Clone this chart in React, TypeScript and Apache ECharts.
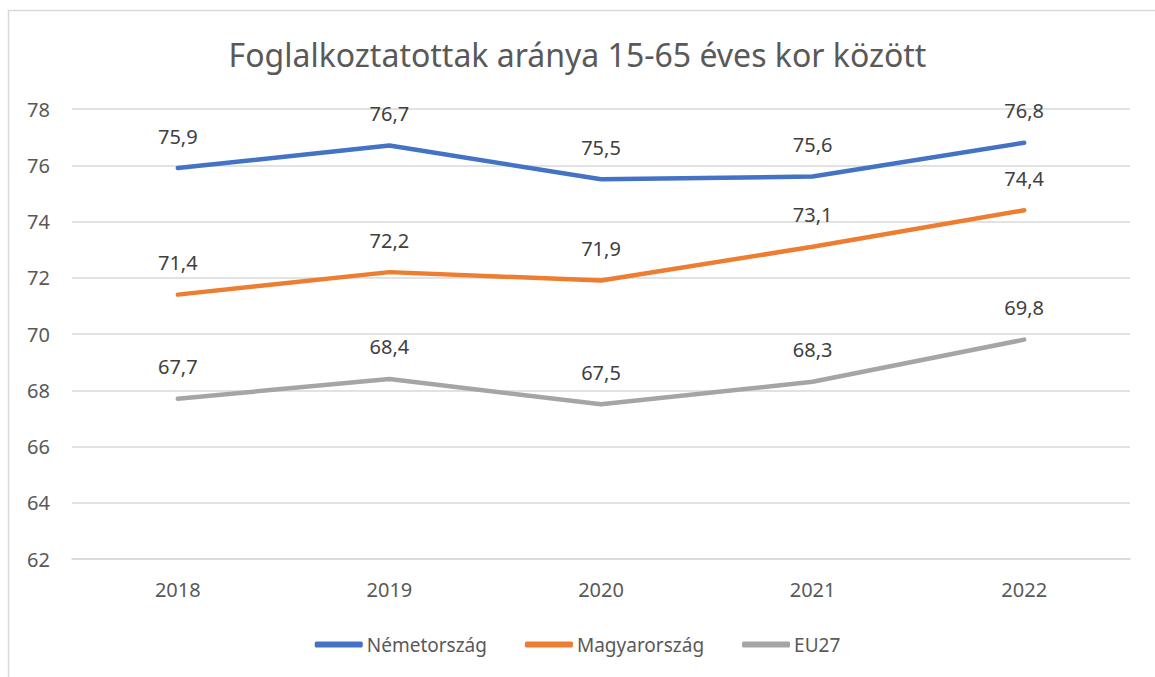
import React, { useEffect, useRef } from "react";
import * as echarts from "echarts";

const years = ["2018", "2019", "2020", "2021", "2022"];
const nemetorszag = [75.9, 76.7, 75.5, 75.6, 76.8];
const magyarorszag = [71.4, 72.2, 71.9, 73.1, 74.4];
const eu27 = [67.7, 68.4, 67.5, 68.3, 69.8];
const seriesNames = ["Németország", "Magyarország", "EU27"];
const colors = ["#4472C4", "#ED7D31", "#A5A5A5"];

const FONT = "'Noto Sans', 'Open Sans', sans-serif";

export default function App() {
  const ref = useRef<HTMLDivElement>(null);
  useEffect(() => {
    document.body.style.margin = "0";
    const chart = echarts.init(ref.current!, null, { renderer: "svg" });
    const mk = (name: string, data: number[], color: string) => ({
      name,
      type: "line",
      data,
      symbol: "circle",
      symbolSize: 0.1,
      showSymbol: true,
      smooth: false,
      lineStyle: { width: 4.5, color, cap: "round" },
      itemStyle: { color },
      label: {
        show: true,
        position: "top",
        distance: 22,
        fontSize: 20,
        fontFamily: FONT,
        color: "#404040",
        formatter: (p: any) => String(p.value).replace(".", ","),
      },
    });
    chart.setOption({
      animation: false,
      backgroundColor: "#ffffff",
      textStyle: { fontFamily: FONT },
      title: {
        text: "Foglalkoztatottak aránya 15-65 éves kor között",
        left: "center",
        top: 33,
        textStyle: { fontSize: 32, fontWeight: "normal", color: "#595959", fontFamily: FONT },
      },
      graphic: [
        {
          type: "rect",
          shape: { x: 8.5, y: 10.5, width: 1200, height: 700 },
          style: { fill: "none", stroke: "#D9D9D9", lineWidth: 1.5 },
          silent: true,
          z: -1,
        },
      ],
      legend: {
        bottom: 18,
        left: "center",
        itemWidth: 48,
        itemHeight: 6,
        itemGap: 38,
        icon: "roundRect",
        textStyle: { fontSize: 19, color: "#595959", fontFamily: FONT, padding: [0, 0, 0, -1] },
        data: seriesNames,
      },
      grid: { left: 72, right: 25, top: 109, bottom: 118 },
      xAxis: {
        type: "category",
        data: years,
        boundaryGap: true,
        axisLine: { show: true, lineStyle: { color: "#D9D9D9", width: 1.5 } },
        axisTick: { show: false },
        axisLabel: { fontSize: 20, color: "#595959", margin: 20, fontFamily: FONT },
      },
      yAxis: {
        type: "value",
        min: 62,
        max: 78,
        interval: 2,
        axisLine: { show: false },
        axisTick: { show: false },
        axisLabel: { fontSize: 20, color: "#595959", margin: 22, fontFamily: FONT },
        splitLine: { lineStyle: { color: "#D9D9D9", width: 1.5 } },
      },
      series: [
        mk(seriesNames[0], nemetorszag, colors[0]),
        mk(seriesNames[1], magyarorszag, colors[1]),
        mk(seriesNames[2], eu27, colors[2]),
      ],
    });
    return () => chart.dispose();
  }, []);
  return <div ref={ref} style={{ width: 1155, height: 677 }} />;
}
